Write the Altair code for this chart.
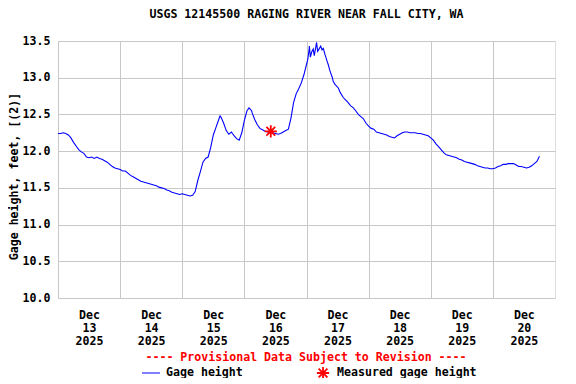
import altair as alt
import pandas as pd

# ---- data (hours after 2025-12-13 00:00, gage height ft)
hours = [0, 1, 2, 3, 4, 5, 6, 7, 8, 9, 10, 11, 12, 13, 14, 15, 16, 17, 18, 19,
         20, 21, 22, 23, 24, 25, 26, 27, 28, 29, 30, 31, 32, 33, 34, 35, 36, 37, 38, 39,
         40, 41, 42, 43, 44, 45, 46, 47, 48, 49, 50, 51, 52, 53, 54, 55, 56, 57, 58, 59,
         60, 61, 62, 62.6, 63, 64, 65, 66, 67, 68, 69, 70, 71, 72, 73, 73.8, 74.8, 75, 76, 77,
         78, 79, 80, 81, 82, 83, 84, 85, 86, 87, 88, 89, 90, 91, 92, 93, 94, 95, 96, 96.5,
         97, 97.1, 97.5, 98, 98.6, 99, 99.5, 99.9, 100.3, 101, 101.5, 102, 102.5, 103.1, 104, 104.4, 105, 106, 106.3, 107,
         108.3, 109, 110.2, 111, 112.1, 113, 114.1, 115, 116, 117, 118, 119, 120, 121, 122, 123, 124, 125, 126, 127,
         128, 129, 130, 131, 132, 133, 134, 135, 136, 137, 138, 139, 140, 141, 142, 143, 144, 145, 146, 147,
         148, 149, 150, 151, 152, 153, 154, 155, 156, 157, 158, 159, 160, 161, 162, 163, 164, 165, 166, 167,
         168, 169, 170, 171, 172, 173, 174, 175, 176, 177, 178, 179, 180, 181, 182, 183, 184, 185, 186]
gage = [12.24, 12.24, 12.25, 12.24, 12.22, 12.18, 12.12, 12.07, 12.02, 11.99, 11.97, 11.92, 11.91, 11.92, 11.90, 11.92, 11.90, 11.89, 11.87, 11.85,
        11.82, 11.79, 11.77, 11.76, 11.75, 11.73, 11.73, 11.70, 11.67, 11.65, 11.63, 11.61, 11.59, 11.58, 11.57, 11.56, 11.55, 11.54, 11.53, 11.51,
        11.50, 11.49, 11.47, 11.46, 11.44, 11.43, 11.42, 11.41, 11.42, 11.41, 11.40, 11.39, 11.40, 11.45, 11.60, 11.72, 11.85, 11.90, 11.92, 12.05,
        12.22, 12.32, 12.42, 12.48, 12.46, 12.38, 12.28, 12.23, 12.26, 12.21, 12.17, 12.15, 12.25, 12.42, 12.55, 12.59, 12.55, 12.52, 12.43, 12.36,
        12.31, 12.29, 12.27, 12.26, 12.25, 12.25, 12.24, 12.23, 12.24, 12.26, 12.28, 12.30, 12.45, 12.66, 12.78, 12.85, 12.93, 13.04, 13.18, 13.25,
        13.38, 13.43, 13.28, 13.35, 13.39, 13.30, 13.40, 13.48, 13.36, 13.40, 13.43, 13.38, 13.40, 13.32, 13.22, 13.18, 13.10, 13.00, 12.95, 12.91,
        12.86, 12.80, 12.73, 12.70, 12.66, 12.62, 12.59, 12.55, 12.50, 12.47, 12.44, 12.38, 12.34, 12.31, 12.30, 12.26, 12.25, 12.24, 12.23, 12.22,
        12.20, 12.19, 12.18, 12.21, 12.23, 12.25, 12.26, 12.26, 12.25, 12.25, 12.25, 12.24, 12.24, 12.23, 12.22, 12.21, 12.18, 12.15, 12.10, 12.06,
        12.02, 11.98, 11.95, 11.94, 11.93, 11.92, 11.91, 11.89, 11.88, 11.86, 11.85, 11.84, 11.83, 11.82, 11.80, 11.79, 11.78, 11.77, 11.77, 11.76,
        11.76, 11.77, 11.79, 11.80, 11.82, 11.82, 11.83, 11.83, 11.83, 11.81, 11.79, 11.79, 11.78, 11.77, 11.78, 11.80, 11.83, 11.86, 11.93]

meas_hours = [82.2]
meas_values = [12.27]

y_ticks = [10.0, 10.5, 11.0, 11.5, 12.0, 12.5, 13.0, 13.5]
day_ticks = [13, 14, 15, 16, 17, 18, 19, 20]

TITLE = "USGS 12145500 RAGING RIVER NEAR FALL CITY, WA"
Y_TITLE = "Gage height, feet, [(2)]"
PROVISIONAL = "---- Provisional Data Subject to Revision ----"
LEG1 = "Gage height"
LEG2 = "Measured gage height"

base = pd.Timestamp("2025-12-13 00:00:00")
df = pd.DataFrame({"time": base + pd.to_timedelta(hours, unit="h"), "value": gage})
dm = pd.DataFrame({"time": base + pd.to_timedelta(meas_hours, unit="h"), "value": meas_values})

FONT = "DejaVu Sans Mono"
FS = 11.6
ASTERISK = "M-1,0L1,0M0,-1L0,1M-0.72,-0.72L0.72,0.72M-0.72,0.72L0.72,-0.72"
GRID = "#c8c8c8"

xscale = alt.Scale(domain=[alt.DateTime(year=2025, month=12, date=13),
                           alt.DateTime(year=2025, month=12, date=21)])
yscale = alt.Scale(domain=[10, 13.5], nice=False, zero=False)

xaxis = alt.Axis(
    values=[alt.DateTime(year=2025, month=12, date=d) for d in day_ticks], tickCount=20,
    labelExpr="[timeFormat(datum.value, '%b'), timeFormat(datum.value, '%d'), timeFormat(datum.value, '%Y')]",
    labelOffset=31, labelPadding=11, labelLineHeight=13, labelFlush=False, labelOverlap=False,
    labelFont=FONT, labelFontSize=FS, labelFontWeight="bold", labelColor="black",
    ticks=False, domain=False, grid=True, gridColor=GRID, title=None,
)
yaxis = alt.Axis(
    values=y_ticks, tickCount=20, format=".1f", ticks=False, domain=False, grid=True, gridColor=GRID,
    labelOverlap=False, labelFlush=False, labelBound=False,
    labelFont=FONT, labelFontSize=FS, labelFontWeight="bold", labelColor="black", labelPadding=8,
    title=Y_TITLE, titleFont=FONT, titleFontSize=FS, titleFontWeight="bold", titleColor="black",
    titlePadding=3, titleY=135,
)

line = alt.Chart(df).mark_line(color="#0000ff", strokeWidth=1.1).encode(
    x=alt.X("time:T", scale=xscale, axis=xaxis),
    y=alt.Y("value:Q", scale=yscale, axis=yaxis),
)

meas = alt.Chart(dm).mark_point(shape=ASTERISK, color="#ff0000", size=150, strokeWidth=1.8,
                                filled=False, opacity=1).encode(
    x="time:T", y="value:Q"
)

one = alt.Data(values=[{"a": 1}])
prov = alt.Chart(one).mark_text(text=PROVISIONAL, font=FONT, fontSize=FS, fontWeight="bold",
                                color="#ff0000", align="center", baseline="middle").encode(
    x=alt.value(248), y=alt.value(317))
leg_line = alt.Chart(one).mark_rule(color="#0000ff", strokeWidth=1).encode(
    x=alt.value(84), x2=alt.value(102), y=alt.value(332))
leg_t1 = alt.Chart(one).mark_text(text=LEG1, font=FONT, fontSize=FS, fontWeight="bold",
                                  color="black", align="left", baseline="middle").encode(
    x=alt.value(108), y=alt.value(332))
leg_star = alt.Chart(one).mark_point(shape=ASTERISK, color="#ff0000", size=150, strokeWidth=1.8,
                                     filled=False, opacity=1).encode(
    x=alt.value(265), y=alt.value(332))
leg_t2 = alt.Chart(one).mark_text(text=LEG2, font=FONT, fontSize=FS, fontWeight="bold",
                                  color="black", align="left", baseline="middle").encode(
    x=alt.value(279), y=alt.value(332))

chart = alt.layer(line, meas, prov, leg_line, leg_t1, leg_star, leg_t2).properties(
    width=497, height=257,
    title=alt.TitleParams(TITLE, font=FONT, fontSize=FS, fontWeight="bold", color="black",
                          anchor="middle", offset=14),
    autosize=alt.AutoSizeParams(type="none"),
    padding={"left": 50, "top": 33, "right": 13, "bottom": 80},
).configure_view(stroke="black", strokeWidth=1).configure(background="white")

chart.save("out.html", embed_options={"renderer": "svg", "actions": False})
